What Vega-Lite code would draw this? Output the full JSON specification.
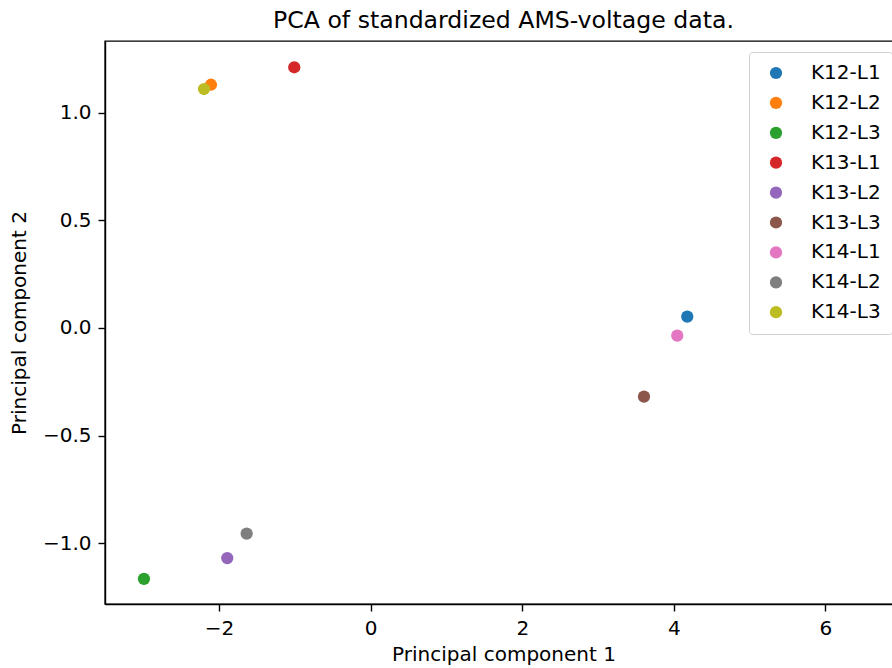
{
  "$schema": "https://vega.github.io/schema/vega-lite/v6.json",
  "autosize": {"type": "none"},
  "padding": {"left": 105, "top": 41, "right": 0, "bottom": 64},
  "width": 797,
  "height": 563,
  "background": "white",
  "title": {"text": "PCA of standardized AMS-voltage data.", "font": "DejaVu Sans", "fontSize": 23.6, "fontWeight": "normal", "color": "#000", "offset": 8, "anchor": "middle"},
  "config": {
    "view": {"stroke": "#000", "strokeWidth": 1.4},
    "axis": {"grid": false, "domainColor": "#000", "domainWidth": 1.4, "tickColor": "#000", "tickSize": 7, "tickWidth": 1.4, "labelFont": "DejaVu Sans", "labelFontSize": 20, "labelColor": "#000", "titleFont": "DejaVu Sans", "titleFontSize": 20, "titleFontWeight": "normal", "titleColor": "#000", "labelPadding": 7}
  },
  "data": {"values": [
    {"name": "K12-L1", "pc1": 4.177, "pc2": 0.052},
    {"name": "K12-L2", "pc1": -2.107, "pc2": 1.129},
    {"name": "K12-L3", "pc1": -2.991, "pc2": -1.165},
    {"name": "K13-L1", "pc1": -1.008, "pc2": 1.21},
    {"name": "K13-L2", "pc1": -1.892, "pc2": -1.069},
    {"name": "K13-L3", "pc1": 3.606, "pc2": -0.319},
    {"name": "K14-L1", "pc1": 4.045, "pc2": -0.036},
    {"name": "K14-L2", "pc1": -1.636, "pc2": -0.955},
    {"name": "K14-L3", "pc1": -2.199, "pc2": 1.109}
  ]},
  "mark": {"type": "point", "filled": true, "shape": "circle", "size": 150, "opacity": 1},
  "encoding": {
    "x": {"field": "pc1", "type": "quantitative", "title": "Principal component 1", "scale": {"domain": [-3.505, 7.01], "nice": false, "zero": false}, "axis": {"values": [-2, 0, 2, 4, 6], "format": "d", "titlePadding": 6}},
    "y": {"field": "pc2", "type": "quantitative", "title": "Principal component 2", "scale": {"domain": [-1.282, 1.332], "nice": false, "zero": false}, "axis": {"values": [-1, -0.5, 0, 0.5, 1], "format": ".1f", "titlePadding": 13}},
    "color": {"field": "name", "type": "nominal", "scale": {"domain": ["K12-L1","K12-L2","K12-L3","K13-L1","K13-L2","K13-L3","K14-L1","K14-L2","K14-L3"], "range": ["#1f77b4","#ff7f0e","#2ca02c","#d62728","#9467bd","#8c564b","#e377c2","#7f7f7f","#bcbd22"]},
      "legend": {"title": null, "orient": "none", "legendX": 644, "legendY": 11, "symbolType": "circle", "symbolSize": 150, "symbolStrokeWidth": 0, "symbolOffset": 6, "labelFont": "DejaVu Sans", "labelFontSize": 20, "labelColor": "#000", "labelOffset": 25, "rowPadding": 9.9, "padding": 11, "strokeColor": "#d0d0d0", "fillColor": "white", "cornerRadius": 3}}
  }
}
